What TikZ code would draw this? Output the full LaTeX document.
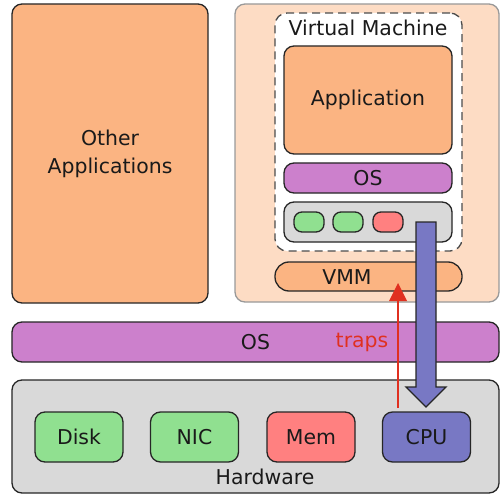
\documentclass[tikz,border=0pt]{standalone}
\usepackage{fontspec}
\setmainfont{DejaVu Sans}
\definecolor{corange}{RGB}{251,180,130}
\definecolor{cpeach}{RGB}{253,220,196}
\definecolor{cpurple}{RGB}{204,128,204}
\definecolor{cgray}{RGB}{217,217,217}
\definecolor{cgreen}{RGB}{144,224,144}
\definecolor{cred}{RGB}{255,128,128}
\definecolor{cblue}{RGB}{120,120,196}
\definecolor{carrow}{RGB}{224,48,32}
\definecolor{ctext}{RGB}{26,26,26}
\begin{document}
\begin{tikzpicture}[x=1bp,y=-1bp,
  every node/.style={font=\fontsize{20.5}{28}\selectfont, text=ctext, inner sep=0pt},
  blk/.style={draw=black!85, line width=1.3bp, rounded corners=10bp},
  dev/.style={blk, minimum width=88bp, minimum height=50bp},
  mini/.style={blk, rounded corners=8bp, minimum width=30bp, minimum height=20bp}]
\useasboundingbox (0,0) rectangle (500,494);
% left
\node[blk, fill=corange, minimum width=196bp, minimum height=299bp, align=center] (other) at (110,153.5) {Other\\Applications};
% right host region
\node[draw=black!40, line width=1.3bp, rounded corners=10bp, fill=cpeach, minimum width=264bp, minimum height=298bp] (host) at (367,153) {};
\node[draw=black!70, dashed, dash pattern=on 8bp off 5bp, line width=1.3bp, rounded corners=12bp, fill=white, minimum width=187bp, minimum height=238bp] (vm) at (368.5,132) {};
\node (vmlabel) at (368,28) {Virtual Machine};
\node[blk, fill=corange, minimum width=168bp, minimum height=108bp] (app) at (368,100) {Application};
\node[blk, fill=cpurple, minimum width=168bp, minimum height=30bp] (vmos) at (368,178) {OS};
\node[blk, fill=cgray, minimum width=168bp, minimum height=40bp] (vdev) at (368,222) {};
\node[mini, fill=cgreen] (v1) at (309,222) {};
\node[mini, fill=cgreen] (v2) at (348,222) {};
\node[mini, fill=cred] (v3) at (388,222) {};
\node[blk, rounded corners=14bp, fill=corange, minimum width=187bp, minimum height=29bp] (vmm) at (368.5,276.5) {};
\node (vmmlabel) at (347,277) {VMM};
% host OS
\node[blk, fill=cpurple, minimum width=487bp, minimum height=40bp] (hos) at (255.5,342) {OS};
\node[text=carrow] (traps) at (362,342) {traps};
% hardware
\node[blk, fill=cgray, minimum width=487bp, minimum height=113bp] (hw) at (255.5,436.5) {};
\node (hwlabel) at (265,477) {Hardware};
\node[dev, fill=cgreen] (disk) at (79,437) {Disk};
\node[dev, fill=cgreen] (nic) at (194.5,437) {NIC};
\node[dev, fill=cred] (mem) at (311,437) {Mem};
\node[dev, fill=cblue] (cpu) at (426.5,437) {CPU};
% blue arrow
\coordinate (bs) at (426,222);
\coordinate (bt) at (426,407);
\draw[fill=cblue, draw=black!85, line width=1.3bp, line join=miter]
  ([xshift=-10bp]bs) -- ([xshift=10bp]bs) -- ([xshift=10bp,yshift=20bp]bt) -- ([xshift=20bp,yshift=20bp]bt)
  -- (bt) -- ([xshift=-20bp,yshift=20bp]bt) -- ([xshift=-10bp,yshift=20bp]bt) -- cycle;
% red arrow
\coordinate (rs) at (398,408);
\coordinate (rt) at (398,283);
\draw[carrow, line width=1.5bp] (rs) -- ([yshift=-17bp]rt);
\fill[carrow] (rt) -- ([xshift=9bp,yshift=-18bp]rt) -- ([xshift=-9bp,yshift=-18bp]rt) -- cycle;
\end{tikzpicture}
\end{document}
